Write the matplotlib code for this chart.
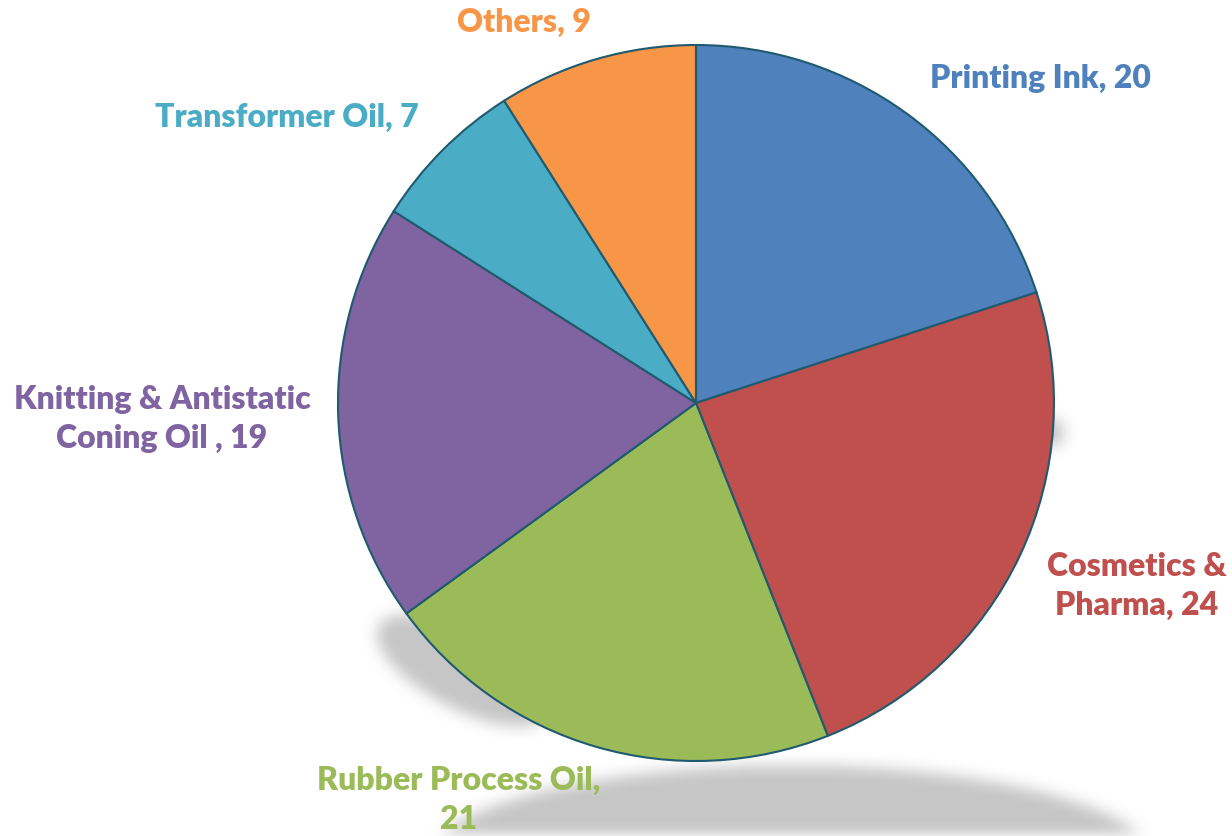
import matplotlib
matplotlib.use("Agg")
from matplotlib import pyplot as plt
import numpy as np

# data
names = ["Printing Ink", "Cosmetics &\nPharma", "Rubber Process Oil,\n",
         "Knitting & Antistatic\nConing Oil ", "Transformer Oil", "Others"]
values = [20, 24, 21, 19, 7, 9]
colors = ["#4F81BD", "#C0504D", "#9BBB59", "#8064A2", "#4BACC6", "#F79646"]

# label text built from names + values
labels = []
for n, v in zip(names, values):
    if n.endswith("\n"):
        labels.append(n + str(v))
    else:
        labels.append(n + ", " + str(v))

# label positions in pixels (x, y from top)
label_pos = [(1040, 78), (1137, 586), (459, 800), (162, 419), (287, 117), (524, 22)]

W, H = 1232, 836
fig = plt.figure(figsize=(W / 100, H / 100), dpi=100)
ax = fig.add_axes([0, 0, 1, 1])

# soft perspective-ish shadow under the pie
yy, xx = np.mgrid[0:H, 0:W].astype(float)
band = ((xx - 790) / 365.0) ** 2 + ((yy - 862) / 97.0) ** 2 <= 1
t = np.deg2rad(28)
u = (xx - 462) * np.cos(t) + (yy - 670) * np.sin(t)
v = -(xx - 462) * np.sin(t) + (yy - 670) * np.cos(t)
blob = (u / 95.0) ** 2 + (v / 38.0) ** 2 <= 1
bump = ((xx - 1050) / 14.0) ** 2 + ((yy - 432) / 14.0) ** 2 <= 1
mask = (band | blob | bump).astype(float)
k = np.ones(17) / 17.0
for _ in range(2):
    mask = np.apply_along_axis(lambda m: np.convolve(m, k, mode="same"), 0, mask)
    mask = np.apply_along_axis(lambda m: np.convolve(m, k, mode="same"), 1, mask)
shadow = np.zeros((H, W, 4))
shadow[..., :3] = 0.78
shadow[..., 3] = np.clip(mask, 0, 1)
ax.imshow(shadow, extent=(0, W, 0, H), origin="upper", zorder=0, aspect="auto")

ax.pie(values, colors=colors, startangle=90, counterclock=False,
       center=(696, H - 403), radius=358,
       wedgeprops=dict(edgecolor="#1F5A6E", linewidth=1.5), frame=True)
ax.set_xlim(0, W)
ax.set_ylim(0, H)
ax.set_aspect("auto")
ax.axis("off")

for lab, (x, y), c in zip(labels, label_pos, colors):
    ax.text(x, H - y, lab, color=c, ha="center", va="center",
            fontsize=23, fontweight=800, family="Lato", linespacing=1.38)

plt.savefig("out.png", dpi=100)
